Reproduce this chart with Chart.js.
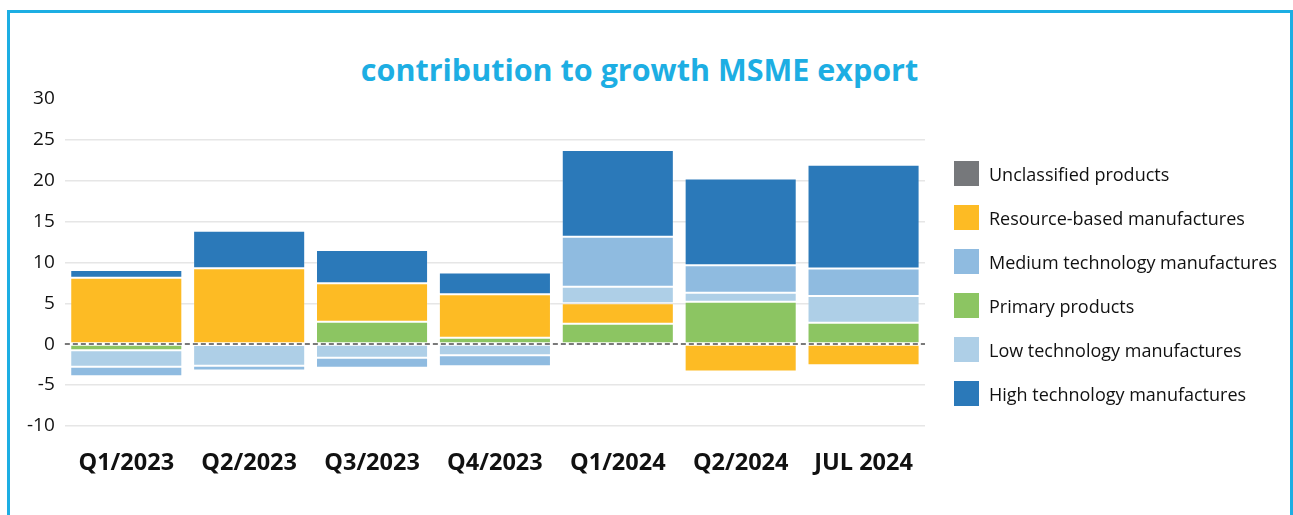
<!DOCTYPE html>
<html>
<head>
<meta charset="utf-8">
<title>contribution to growth MSME export</title>
<script src="https://cdn.jsdelivr.net/npm/chart.js@4.4.1/dist/chart.umd.min.js"></script>
<style>
  html, body { margin: 0; padding: 0; background: #fff; overflow: hidden; }
  .frame {
    position: absolute; left: 7px; top: 10px;
    width: 1280px; height: 600px;
    border: 3px solid #1daee3; border-bottom: none;
  }
  .chart-title {
    position: absolute; top: 48px; left: 0; width: 1279px;
    text-align: center; line-height: 40px;
    font: bold 30.5px 'Open Sans', sans-serif; color: #1daee3;
  }
  #growthChart { position: absolute; left: 0; top: 0; }
  #legend {
    position: absolute; left: 954px; top: 161px;
    margin: 0; padding: 0; list-style: none;
    font: 18px 'Open Sans', sans-serif; color: #111;
  }
  #legend li { display: flex; align-items: center; height: 25px; margin-bottom: 19px; white-space: nowrap; }
  #legend .swatch { width: 25px; height: 25px; margin-right: 10px; flex: none; }
</style>
</head>
<body>
<div class="frame"></div>
<div class="chart-title">contribution to growth MSME export</div>
<canvas id="growthChart" width="1293" height="515"></canvas>
<ul id="legend"></ul>
<script>
  /* ── Data: contribution to growth, percentage points ── */
  const categories = ['Q1/2023', 'Q2/2023', 'Q3/2023', 'Q4/2023', 'Q1/2024', 'Q2/2024', 'JUL 2024'];

  const unclassified    = [0, 0, 0, 0, 0, 0, 0];
  const primaryProducts = [-0.74, -0.1, 2.74, 0.77, 2.50, 5.19, 2.61];
  const resourceBased   = [8.13, 9.29, 4.70, 5.33, 2.50, -3.35, -2.58];
  const lowTech         = [-2.04, -2.56, -1.68, -1.35, 2.03, 1.11, 3.28];
  const mediumTech      = [-1.15, -0.57, -1.23, -1.35, 6.10, 3.36, 3.35];
  const highTech        = [0.95, 4.58, 4.09, 2.65, 10.64, 10.62, 12.72];

  const yTicks = { min: -10, max: 30, step: 5 };

  // legend lists the groups in a different order from the stacking
  const legendOrder = [
    'Unclassified products',
    'Resource-based manufactures',
    'Medium technology manufactures',
    'Primary products',
    'Low technology manufactures',
    'High technology manufactures'
  ];

  const series = [
    { label: 'Unclassified products',          data: unclassified,    color: '#76787b' },
    { label: 'Primary products',               data: primaryProducts, color: '#8cc562' },
    { label: 'Resource-based manufactures',    data: resourceBased,   color: '#fdbb24' },
    { label: 'Low technology manufactures',    data: lowTech,         color: '#aecfe7' },
    { label: 'Medium technology manufactures', data: mediumTech,      color: '#8fbbe0' },
    { label: 'High technology manufactures',   data: highTech,        color: '#2b79b9' }
  ];

  /* ── dashed zero line drawn over the bars ── */
  const zeroLine = {
    id: 'zeroLine',
    afterDatasetsDraw(chart) {
      const { ctx, chartArea, scales: { y } } = chart;
      const py = Math.round(y.getPixelForValue(0));
      ctx.save();
      ctx.strokeStyle = '#7a7a7a';
      ctx.lineWidth = 2;
      ctx.setLineDash([5, 3]);
      ctx.beginPath();
      ctx.moveTo(chartArea.left, py);
      ctx.lineTo(chartArea.right, py);
      ctx.stroke();
      ctx.restore();
    }
  };

  const ctx = document.getElementById('growthChart').getContext('2d');
  const chart = new Chart(ctx, {
    type: 'bar',
    data: {
      labels: categories,
      datasets: series.map(s => ({
        label: s.label,
        data: s.data,
        backgroundColor: s.color,
        borderColor: 'rgba(255,255,255,0.18)',
        borderWidth: 1,
        borderSkipped: false,
        barPercentage: 0.912,
        categoryPercentage: 1
      }))
    },
    options: {
      responsive: false,
      animation: false,
      // right side is left free for the html legend
      layout: { padding: { left: 17, right: 368, top: 99, bottom: 15 } },
      plugins: {
        legend: { display: false },
        tooltip: { enabled: false }
      },
      scales: {
        x: {
          stacked: true,
          grid: { display: false, drawTicks: false },
          border: { display: false },
          ticks: {
            color: '#111111',
            padding: 23,
            font: { size: 23.5, weight: 'bold', family: "'Open Sans', sans-serif" }
          }
        },
        y: {
          stacked: true,
          min: yTicks.min,
          max: yTicks.max,
          grid: {
            drawTicks: false,
            lineWidth: 1.5,
            color: c => (c.tick && (c.tick.value === 0 || c.tick.value === yTicks.max)) ? 'rgba(0,0,0,0)' : '#e6e6e6'
          },
          border: { display: false },
          ticks: {
            stepSize: yTicks.step,
            padding: 10,
            color: '#111111',
            font: { size: 19, family: "'Open Sans', sans-serif" }
          }
        }
      }
    },
    plugins: [zeroLine]
  });

  /* ── html legend built from the chart's own legend items ── */
  const items = Chart.defaults.plugins.legend.labels.generateLabels(chart)
    .sort((a, b) => legendOrder.indexOf(a.text) - legendOrder.indexOf(b.text));
  const legendEl = document.getElementById('legend');
  items.forEach(item => {
    const li = document.createElement('li');
    const sw = document.createElement('span');
    sw.className = 'swatch';
    sw.style.background = item.fillStyle;
    li.appendChild(sw);
    li.appendChild(document.createTextNode(item.text));
    legendEl.appendChild(li);
  });
</script>
</body>
</html>
